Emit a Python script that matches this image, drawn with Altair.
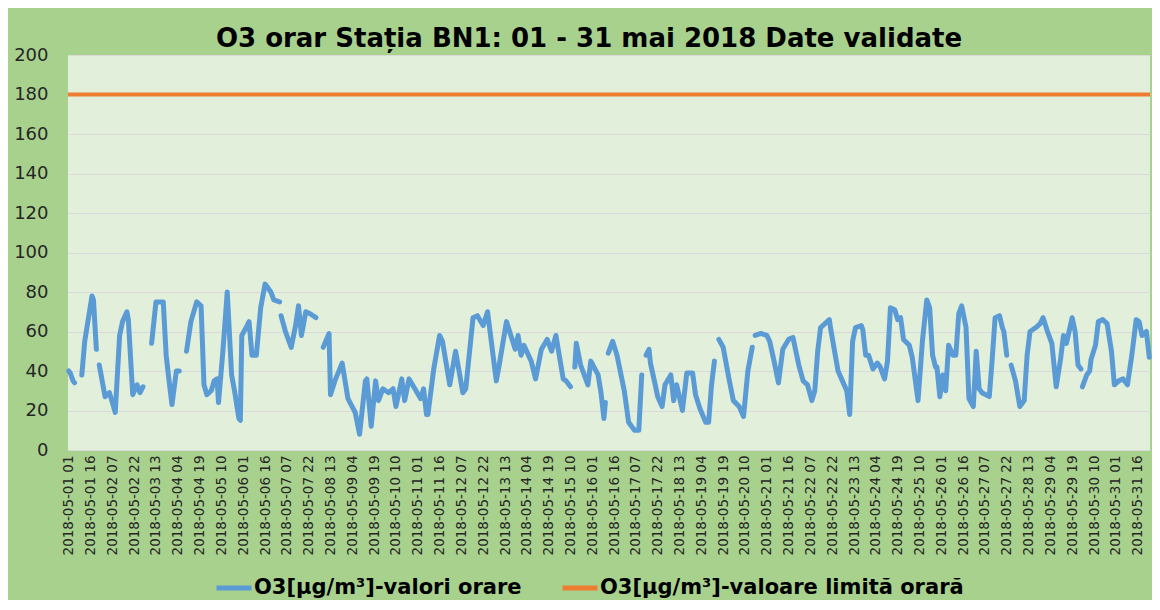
import json
import altair as alt
import pandas as pd

title_text = "O3 orar Stația BN1: 01 - 31 mai 2018 Date validate"
series_o3 = "O3[µg/m³]-valori orare"
series_limit = "O3[µg/m³]-valoare limită orară"
limit_value = [180]

y_ticks = [0, 20, 40, 60, 80, 100, 120, 140, 160, 180, 200]

x_tick_hours = list(range(0, 744, 15))
x_tick_labels = [
    "2018-05-01 01", "2018-05-01 16", "2018-05-02 07", "2018-05-02 22", "2018-05-03 13",
    "2018-05-04 04", "2018-05-04 19", "2018-05-05 10", "2018-05-06 01", "2018-05-06 16",
    "2018-05-07 07", "2018-05-07 22", "2018-05-08 13", "2018-05-09 04", "2018-05-09 19",
    "2018-05-10 10", "2018-05-11 01", "2018-05-11 16", "2018-05-12 07", "2018-05-12 22",
    "2018-05-13 13", "2018-05-14 04", "2018-05-14 19", "2018-05-15 10", "2018-05-16 01",
    "2018-05-16 16", "2018-05-17 07", "2018-05-17 22", "2018-05-18 13", "2018-05-19 04",
    "2018-05-19 19", "2018-05-20 10", "2018-05-21 01", "2018-05-21 16", "2018-05-22 07",
    "2018-05-22 22", "2018-05-23 13", "2018-05-24 04", "2018-05-24 19", "2018-05-25 10",
    "2018-05-26 01", "2018-05-26 16", "2018-05-27 07", "2018-05-27 22", "2018-05-28 13",
    "2018-05-29 04", "2018-05-29 19", "2018-05-30 10", "2018-05-31 01", "2018-05-31 16",
]

# hour index (0 = 2018-05-01 01) and O3 value; None marks a gap in the record
o3_hours = [
    0, 1, 3, 4, None,
    9, 11, 16, 17, 19, None,
    21, 25, 28, 30, 32, 35, 37, 40, 41, 44, 47, 49, 51, None,
    57, 60, 65, 67, 69, 71, 74, 76, None,
    81, 84, 88, 91, 93, 95, 98, 100, 102, 103, 106, 109, 112, 114, 117, 118, 119, 122, 124,
    126, 129, 132, 135, 139, 141, 145, None,
    146, 149, 153, 156, 158, 160, 163, 166, 170, None,
    175, 179, 180, 183, 188, 192, 197, 200, 204, 205, 208, 211, 213, 216, 220, 223, 225, 229,
    231, 234, 238, 242, 244, 246, 247, 251, 255, 257, 262, 266, 271, 273, 278, 281, 285, 288,
    294, 296, 301, 307, 309, 311, 313, 318, 321, 325, 329, 332, 335, 340, 342, 345, None,
    348, 349, 352, 357, 359, 364, 366, 368, 369, None,
    371, 374, 377, 382, 385, 389, 392, 394, None,
    397, 399, 400, 403, 405, 408, 410, 414, 416, 418, 422, 425, 429, 431, 434, 438, 440, 442,
    444, None,
    447, 450, 454, 457, 461, 464, 467, 470, None,
    472, 476, 480, 482, 485, 488, 491, 495, 498, 502, 505, 508, 511, 513, 515, 517, 520, 523,
    524, 529, 532, 535, 537, 539, 541, 545, 546, 548, 550, 553, 556, 558, 561, 563, 565, 568,
    570, 572, 574, 578, 580, 584, 587, 590, 592, 594, 596, 597, 599, 601, 603, 605, 608, 610,
    612, 614, 617, 619, 622, 624, 626, 628, 633, 635, 637, 640, 642, 643, 645, None,
    648, 651, 654, 657, 659, 661, 665, 668, 670, 673, 676, 679, 682, 684, 686, 690, 692, 694,
    696, None,
    697, 700, 702, 703, 706, 708, 711, 714, 717, 719, 722, 725, 728, 731, 734, 736, 738, 741,
    743,
]
o3_values = [
    40, 39, 35, 34, None,
    38, 55, 78, 76, 51, None,
    43, 27, 29, 24, 19, 58, 65, 70, 66, 28, 33, 29, 32, None,
    54, 75, 75, 48, 35, 23, 40, 40, None,
    50, 65, 75, 73, 33, 28, 30, 35, 36, 24, 50, 80, 38, 30, 16, 15, 58, 62, 65,
    48, 48, 72, 84, 80, 76, 75, None,
    68, 60, 52, 63, 73, 58, 70, 69, 67, None,
    52, 59, 28, 35, 44, 26, 19, 8, 35, 36, 12, 35, 25, 31, 29, 31, 22, 36,
    25, 36, 31, 26, 31, 18, 18, 41, 58, 55, 33, 50, 29, 31, 67, 68, 63, 70,
    35, 43, 65, 51, 58, 48, 53, 45, 36, 51, 56, 50, 58, 36, 35, 32, None,
    42, 54, 43, 33, 45, 38, 29, 16, 24, None,
    49, 55, 48, 30, 14, 10, 10, 38, None,
    48, 51, 44, 34, 27, 22, 33, 38, 25, 33, 20, 39, 39, 28, 21, 14, 14, 33,
    45, None,
    56, 52, 36, 25, 22, 17, 40, 52, None,
    58, 59, 58, 55, 45, 34, 51, 56, 57, 43, 35, 33, 25, 30, 50, 62, 64, 66,
    61, 40, 35, 30, 18, 55, 62, 63, 61, 48, 48, 41, 44, 42, 36, 45, 72, 71,
    66, 67, 56, 53, 47, 25, 55, 76, 72, 48, 42, 42, 27, 38, 30, 53, 48, 48,
    69, 73, 62, 26, 22, 50, 31, 29, 27, 46, 67, 68, 62, 60, 48, None,
    43, 35, 22, 25, 48, 60, 62, 64, 67, 60, 54, 32, 46, 58, 54, 67, 60, 43,
    41, None,
    32, 38, 40, 46, 53, 65, 66, 64, 50, 33, 35, 36, 33, 48, 66, 65, 58, 60,
    47,
]

rows = []
seg = 0
for h, v in zip(o3_hours, o3_values):
    if v is None:
        seg += 1
        continue
    rows.append({"hour": h, "value": v, "seg": seg, "series": series_o3})
o3_df = pd.DataFrame(rows)
limit_df = pd.DataFrame({"value": limit_value, "series": [series_limit]})

color_scale = alt.Scale(domain=[series_o3, series_limit], range=["#5b9bd5", "#ed7d31"])

label_expr = json.dumps(x_tick_labels) + "[round(datum.value / 15)]"

x_axis = alt.Axis(
    values=x_tick_hours,
    labelExpr=label_expr,
    labelAngle=-90,
    labelFont="DejaVu Sans",
    labelFontSize=13.5,
    labelColor="#262626",
    labelPadding=5,
    labelOverlap=False,
    labelFlush=False,
    labelBound=False,
    ticks=False,
    domain=False,
    grid=False,
    title=None,
)
y_axis = alt.Axis(
    values=y_ticks,
    labelFont="DejaVu Sans",
    labelFontSize=18,
    labelColor="#262626",
    labelPadding=20,
    labelOverlap=False,
    ticks=False,
    domain=False,
    grid=True,
    gridColor="#d9d9d9",
    gridWidth=1,
    title=None,
)
y_scale = alt.Scale(domain=[0, 200], nice=False)

legend = alt.Legend(
    orient="none",
    legendX=146,
    legendY=513,
    direction="horizontal",
    title=None,
    symbolType="stroke",
    symbolSize=1225,
    symbolStrokeWidth=5,
    labelFont="DejaVu Sans",
    labelFontWeight="bold",
    labelFontSize=21,
    labelColor="#000000",
    labelOffset=0,
    labelLimit=600,
    columnPadding=30,
)

line = alt.Chart(o3_df).mark_line(
    strokeWidth=5, strokeCap="round", strokeJoin="round"
).encode(
    x=alt.X("hour:Q", scale=alt.Scale(domain=[-0.5, 743.5], nice=False, zero=False), axis=x_axis),
    y=alt.Y("value:Q", scale=y_scale, axis=y_axis),
    color=alt.Color("series:N", scale=color_scale, legend=legend),
    detail="seg:N",
)

rule = alt.Chart(limit_df).mark_rule(strokeWidth=4).encode(
    y=alt.Y("value:Q", scale=y_scale, axis=y_axis),
    color=alt.Color("series:N", scale=color_scale, legend=legend),
)

chart = alt.layer(line, rule).properties(
    width=1082,
    height=395,
    background="#a9d18e",
    padding={"left": 60, "top": 47, "right": 2, "bottom": 150},
    autosize=alt.AutoSizeParams(type="none"),
    title=alt.TitleParams(
        text=title_text,
        font="DejaVu Sans",
        fontSize=26,
        fontWeight="bold",
        color="#000000",
        anchor="middle",
        dx=-20,
        dy=14,
        offset=8,
    ),
).configure_view(fill="#e2efda", strokeWidth=0)

chart.save("out.html", embed_options={"renderer": "svg", "actions": False})
